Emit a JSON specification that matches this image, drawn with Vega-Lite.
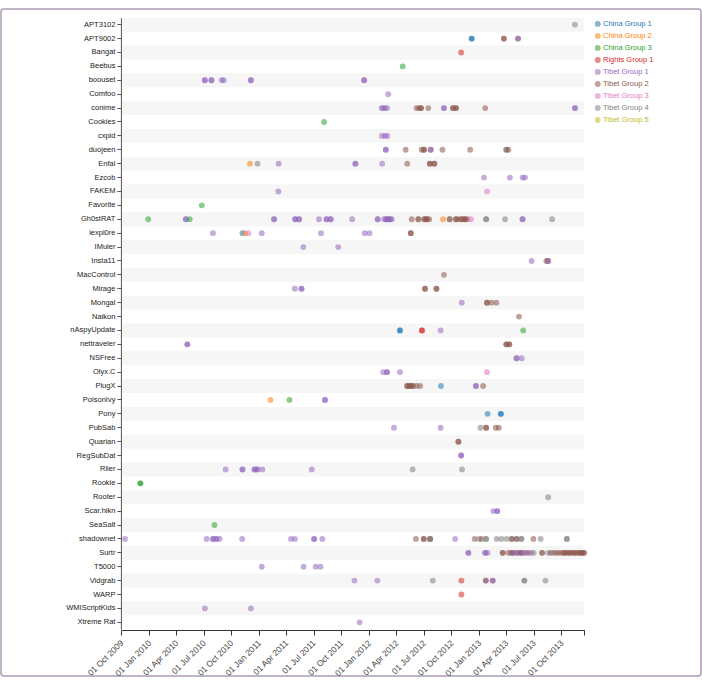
{
  "$schema": "https://vega.github.io/schema/vega-lite/v6.json",
  "width": 700,
  "height": 667,
  "autosize": "none",
  "padding": {"left": 1, "top": 9, "right": 1, "bottom": 4},
  "config": {
    "font": "Liberation Sans",
    "view": {"stroke": "#ab9db5", "strokeWidth": 1.5, "cornerRadius": 3, "fill": "white"}
  },
  "datasets": {
    "bands": [
      {"family": "APT3102"}, {"family": "Bangat"}, {"family": "boouset"}, {"family": "conime"},
      {"family": "cxpid"}, {"family": "Enfal"}, {"family": "FAKEM"}, {"family": "Gh0stRAT"},
      {"family": "IMuler"}, {"family": "MacControl"}, {"family": "Mongal"}, {"family": "nAspyUpdate"},
      {"family": "NSFree"}, {"family": "PlugX"}, {"family": "Pony"}, {"family": "Quarian"},
      {"family": "Riler"}, {"family": "Rooter"}, {"family": "SeaSalt"}, {"family": "Surtr"},
      {"family": "Vidgrab"}, {"family": "WMIScriptKids"}
    ],
    "samples": [
      {"family": "APT3102", "date": "2013-11-15", "group": "Tibet Group 4"},
      {"family": "APT9002", "date": "2012-12-07", "group": "China Group 1"},
      {"family": "APT9002", "date": "2012-12-07", "group": "China Group 1"},
      {"family": "APT9002", "date": "2013-03-24", "group": "Tibet Group 2"},
      {"family": "APT9002", "date": "2013-03-24", "group": "Tibet Group 2"},
      {"family": "APT9002", "date": "2013-05-10", "group": "Tibet Group 2"},
      {"family": "APT9002", "date": "2013-05-10", "group": "Tibet Group 1"},
      {"family": "Bangat", "date": "2012-11-02", "group": "Rights Group 1"},
      {"family": "Beebus", "date": "2012-04-22", "group": "China Group 3"},
      {"family": "boouset", "date": "2010-07-05", "group": "Tibet Group 1"},
      {"family": "boouset", "date": "2010-07-05", "group": "Tibet Group 1"},
      {"family": "boouset", "date": "2010-07-27", "group": "Tibet Group 1"},
      {"family": "boouset", "date": "2010-07-27", "group": "Tibet Group 1"},
      {"family": "boouset", "date": "2010-08-30", "group": "Tibet Group 1"},
      {"family": "boouset", "date": "2010-09-06", "group": "Tibet Group 1"},
      {"family": "boouset", "date": "2010-12-05", "group": "Tibet Group 1"},
      {"family": "boouset", "date": "2010-12-05", "group": "Tibet Group 1"},
      {"family": "boouset", "date": "2011-12-16", "group": "Tibet Group 1"},
      {"family": "boouset", "date": "2011-12-16", "group": "Tibet Group 1"},
      {"family": "Comfoo", "date": "2012-03-05", "group": "Tibet Group 1"},
      {"family": "conime", "date": "2012-02-12", "group": "Tibet Group 1"},
      {"family": "conime", "date": "2012-02-17", "group": "Tibet Group 1"},
      {"family": "conime", "date": "2012-02-23", "group": "Tibet Group 1"},
      {"family": "conime", "date": "2012-03-01", "group": "Tibet Group 1"},
      {"family": "conime", "date": "2012-06-07", "group": "Tibet Group 2"},
      {"family": "conime", "date": "2012-06-15", "group": "Tibet Group 2"},
      {"family": "conime", "date": "2012-06-22", "group": "Tibet Group 2"},
      {"family": "conime", "date": "2012-06-22", "group": "Tibet Group 2"},
      {"family": "conime", "date": "2012-07-16", "group": "Tibet Group 2"},
      {"family": "conime", "date": "2012-09-06", "group": "Tibet Group 1"},
      {"family": "conime", "date": "2012-09-06", "group": "Tibet Group 1"},
      {"family": "conime", "date": "2012-10-06", "group": "Tibet Group 2"},
      {"family": "conime", "date": "2012-10-06", "group": "Tibet Group 2"},
      {"family": "conime", "date": "2012-10-16", "group": "Tibet Group 2"},
      {"family": "conime", "date": "2012-10-16", "group": "Tibet Group 2"},
      {"family": "conime", "date": "2013-01-21", "group": "Tibet Group 2"},
      {"family": "conime", "date": "2013-11-15", "group": "Tibet Group 1"},
      {"family": "conime", "date": "2013-11-15", "group": "Tibet Group 1"},
      {"family": "Cookies", "date": "2011-08-05", "group": "China Group 3"},
      {"family": "cxpid", "date": "2012-02-13", "group": "Tibet Group 1"},
      {"family": "cxpid", "date": "2012-02-23", "group": "Tibet Group 1"},
      {"family": "cxpid", "date": "2012-03-02", "group": "Tibet Group 1"},
      {"family": "duojeen", "date": "2012-02-26", "group": "Tibet Group 1"},
      {"family": "duojeen", "date": "2012-02-26", "group": "Tibet Group 1"},
      {"family": "duojeen", "date": "2012-05-02", "group": "Tibet Group 2"},
      {"family": "duojeen", "date": "2012-06-24", "group": "Tibet Group 2"},
      {"family": "duojeen", "date": "2012-07-02", "group": "Tibet Group 2"},
      {"family": "duojeen", "date": "2012-07-02", "group": "Tibet Group 2"},
      {"family": "duojeen", "date": "2012-07-24", "group": "Tibet Group 2"},
      {"family": "duojeen", "date": "2012-07-24", "group": "Tibet Group 1"},
      {"family": "duojeen", "date": "2012-09-01", "group": "Tibet Group 2"},
      {"family": "duojeen", "date": "2012-12-02", "group": "Tibet Group 2"},
      {"family": "duojeen", "date": "2013-04-01", "group": "Tibet Group 2"},
      {"family": "duojeen", "date": "2013-04-01", "group": "Tibet Group 4"},
      {"family": "duojeen", "date": "2013-04-08", "group": "Tibet Group 2"},
      {"family": "Enfal", "date": "2010-12-02", "group": "China Group 2"},
      {"family": "Enfal", "date": "2010-12-27", "group": "Tibet Group 4"},
      {"family": "Enfal", "date": "2011-03-07", "group": "Tibet Group 1"},
      {"family": "Enfal", "date": "2011-11-17", "group": "Tibet Group 1"},
      {"family": "Enfal", "date": "2011-11-17", "group": "Tibet Group 1"},
      {"family": "Enfal", "date": "2012-02-14", "group": "Tibet Group 1"},
      {"family": "Enfal", "date": "2012-05-07", "group": "Tibet Group 2"},
      {"family": "Enfal", "date": "2012-07-21", "group": "Tibet Group 2"},
      {"family": "Enfal", "date": "2012-07-21", "group": "Tibet Group 2"},
      {"family": "Enfal", "date": "2012-08-05", "group": "Tibet Group 2"},
      {"family": "Enfal", "date": "2012-08-05", "group": "Tibet Group 2"},
      {"family": "Ezcob", "date": "2013-01-17", "group": "Tibet Group 1"},
      {"family": "Ezcob", "date": "2013-04-13", "group": "Tibet Group 1"},
      {"family": "Ezcob", "date": "2013-05-25", "group": "Tibet Group 1"},
      {"family": "Ezcob", "date": "2013-06-02", "group": "Tibet Group 1"},
      {"family": "FAKEM", "date": "2011-03-06", "group": "Tibet Group 1"},
      {"family": "FAKEM", "date": "2013-01-27", "group": "Tibet Group 3"},
      {"family": "Favorite", "date": "2010-06-25", "group": "China Group 3"},
      {"family": "Gh0stRAT", "date": "2009-12-29", "group": "China Group 3"},
      {"family": "Gh0stRAT", "date": "2010-05-03", "group": "Tibet Group 1"},
      {"family": "Gh0stRAT", "date": "2010-05-03", "group": "Tibet Group 1"},
      {"family": "Gh0stRAT", "date": "2010-05-16", "group": "China Group 3"},
      {"family": "Gh0stRAT", "date": "2011-02-20", "group": "Tibet Group 1"},
      {"family": "Gh0stRAT", "date": "2011-02-20", "group": "Tibet Group 1"},
      {"family": "Gh0stRAT", "date": "2011-05-01", "group": "Tibet Group 1"},
      {"family": "Gh0stRAT", "date": "2011-05-01", "group": "Tibet Group 1"},
      {"family": "Gh0stRAT", "date": "2011-05-14", "group": "Tibet Group 1"},
      {"family": "Gh0stRAT", "date": "2011-05-14", "group": "Tibet Group 1"},
      {"family": "Gh0stRAT", "date": "2011-07-19", "group": "Tibet Group 1"},
      {"family": "Gh0stRAT", "date": "2011-08-13", "group": "Tibet Group 1"},
      {"family": "Gh0stRAT", "date": "2011-08-13", "group": "Tibet Group 1"},
      {"family": "Gh0stRAT", "date": "2011-08-27", "group": "Tibet Group 1"},
      {"family": "Gh0stRAT", "date": "2011-08-27", "group": "Tibet Group 1"},
      {"family": "Gh0stRAT", "date": "2011-11-06", "group": "Tibet Group 1"},
      {"family": "Gh0stRAT", "date": "2012-01-30", "group": "Tibet Group 1"},
      {"family": "Gh0stRAT", "date": "2012-01-30", "group": "Tibet Group 1"},
      {"family": "Gh0stRAT", "date": "2012-02-20", "group": "Tibet Group 1"},
      {"family": "Gh0stRAT", "date": "2012-02-27", "group": "Tibet Group 1"},
      {"family": "Gh0stRAT", "date": "2012-02-27", "group": "Tibet Group 1"},
      {"family": "Gh0stRAT", "date": "2012-03-04", "group": "Tibet Group 1"},
      {"family": "Gh0stRAT", "date": "2012-03-04", "group": "Tibet Group 1"},
      {"family": "Gh0stRAT", "date": "2012-03-11", "group": "Tibet Group 1"},
      {"family": "Gh0stRAT", "date": "2012-03-11", "group": "Tibet Group 1"},
      {"family": "Gh0stRAT", "date": "2012-03-17", "group": "Tibet Group 1"},
      {"family": "Gh0stRAT", "date": "2012-05-22", "group": "Tibet Group 2"},
      {"family": "Gh0stRAT", "date": "2012-06-13", "group": "Tibet Group 4"},
      {"family": "Gh0stRAT", "date": "2012-06-13", "group": "Tibet Group 2"},
      {"family": "Gh0stRAT", "date": "2012-07-03", "group": "Tibet Group 2"},
      {"family": "Gh0stRAT", "date": "2012-07-03", "group": "Tibet Group 2"},
      {"family": "Gh0stRAT", "date": "2012-07-11", "group": "Tibet Group 2"},
      {"family": "Gh0stRAT", "date": "2012-07-11", "group": "Tibet Group 2"},
      {"family": "Gh0stRAT", "date": "2012-07-19", "group": "Tibet Group 2"},
      {"family": "Gh0stRAT", "date": "2012-09-03", "group": "China Group 2"},
      {"family": "Gh0stRAT", "date": "2012-09-25", "group": "Tibet Group 4"},
      {"family": "Gh0stRAT", "date": "2012-09-25", "group": "Tibet Group 2"},
      {"family": "Gh0stRAT", "date": "2012-10-16", "group": "Tibet Group 2"},
      {"family": "Gh0stRAT", "date": "2012-10-16", "group": "Tibet Group 2"},
      {"family": "Gh0stRAT", "date": "2012-10-26", "group": "Tibet Group 2"},
      {"family": "Gh0stRAT", "date": "2012-11-05", "group": "Tibet Group 2"},
      {"family": "Gh0stRAT", "date": "2012-11-05", "group": "Tibet Group 2"},
      {"family": "Gh0stRAT", "date": "2012-11-15", "group": "Tibet Group 2"},
      {"family": "Gh0stRAT", "date": "2012-11-15", "group": "Tibet Group 2"},
      {"family": "Gh0stRAT", "date": "2012-11-23", "group": "Tibet Group 2"},
      {"family": "Gh0stRAT", "date": "2012-12-05", "group": "Tibet Group 3"},
      {"family": "Gh0stRAT", "date": "2013-01-24", "group": "Tibet Group 4"},
      {"family": "Gh0stRAT", "date": "2013-01-24", "group": "Tibet Group 4"},
      {"family": "Gh0stRAT", "date": "2013-03-28", "group": "Tibet Group 4"},
      {"family": "Gh0stRAT", "date": "2013-05-25", "group": "Tibet Group 1"},
      {"family": "Gh0stRAT", "date": "2013-05-25", "group": "Tibet Group 1"},
      {"family": "Gh0stRAT", "date": "2013-08-31", "group": "Tibet Group 4"},
      {"family": "iexpl0re", "date": "2010-08-01", "group": "Tibet Group 1"},
      {"family": "iexpl0re", "date": "2010-11-07", "group": "China Group 1"},
      {"family": "iexpl0re", "date": "2010-11-16", "group": "China Group 2"},
      {"family": "iexpl0re", "date": "2010-11-27", "group": "Tibet Group 3"},
      {"family": "iexpl0re", "date": "2011-01-10", "group": "Tibet Group 1"},
      {"family": "iexpl0re", "date": "2011-07-26", "group": "Tibet Group 1"},
      {"family": "iexpl0re", "date": "2011-12-18", "group": "Tibet Group 1"},
      {"family": "iexpl0re", "date": "2012-01-03", "group": "Tibet Group 1"},
      {"family": "iexpl0re", "date": "2012-05-19", "group": "Tibet Group 2"},
      {"family": "iexpl0re", "date": "2012-05-19", "group": "Tibet Group 2"},
      {"family": "IMuler", "date": "2011-05-28", "group": "Tibet Group 1"},
      {"family": "IMuler", "date": "2011-09-21", "group": "Tibet Group 1"},
      {"family": "Insta11", "date": "2013-06-24", "group": "Tibet Group 1"},
      {"family": "Insta11", "date": "2013-08-12", "group": "Tibet Group 2"},
      {"family": "Insta11", "date": "2013-08-18", "group": "Tibet Group 2"},
      {"family": "Insta11", "date": "2013-08-18", "group": "Tibet Group 1"},
      {"family": "MacControl", "date": "2012-09-06", "group": "Tibet Group 2"},
      {"family": "Mirage", "date": "2011-04-30", "group": "Tibet Group 1"},
      {"family": "Mirage", "date": "2011-05-22", "group": "Tibet Group 1"},
      {"family": "Mirage", "date": "2011-05-22", "group": "Tibet Group 1"},
      {"family": "Mirage", "date": "2012-07-05", "group": "Tibet Group 2"},
      {"family": "Mirage", "date": "2012-07-05", "group": "Tibet Group 2"},
      {"family": "Mirage", "date": "2012-08-12", "group": "Tibet Group 2"},
      {"family": "Mirage", "date": "2012-08-12", "group": "Tibet Group 2"},
      {"family": "Mongal", "date": "2012-11-04", "group": "Tibet Group 1"},
      {"family": "Mongal", "date": "2013-01-27", "group": "Tibet Group 2"},
      {"family": "Mongal", "date": "2013-01-27", "group": "Tibet Group 2"},
      {"family": "Mongal", "date": "2013-02-11", "group": "Tibet Group 2"},
      {"family": "Mongal", "date": "2013-02-27", "group": "Tibet Group 2"},
      {"family": "Naikon", "date": "2013-05-13", "group": "Tibet Group 2"},
      {"family": "nAspyUpdate", "date": "2012-04-13", "group": "China Group 1"},
      {"family": "nAspyUpdate", "date": "2012-04-13", "group": "China Group 1"},
      {"family": "nAspyUpdate", "date": "2012-06-25", "group": "Rights Group 1"},
      {"family": "nAspyUpdate", "date": "2012-06-25", "group": "Rights Group 1"},
      {"family": "nAspyUpdate", "date": "2012-08-26", "group": "Tibet Group 1"},
      {"family": "nAspyUpdate", "date": "2013-05-27", "group": "China Group 3"},
      {"family": "nettraveler", "date": "2010-05-08", "group": "Tibet Group 1"},
      {"family": "nettraveler", "date": "2010-05-08", "group": "Tibet Group 1"},
      {"family": "nettraveler", "date": "2013-04-01", "group": "Tibet Group 2"},
      {"family": "nettraveler", "date": "2013-04-01", "group": "Tibet Group 2"},
      {"family": "nettraveler", "date": "2013-04-11", "group": "Tibet Group 2"},
      {"family": "nettraveler", "date": "2013-04-11", "group": "Tibet Group 2"},
      {"family": "NSFree", "date": "2013-05-05", "group": "Tibet Group 1"},
      {"family": "NSFree", "date": "2013-05-05", "group": "Tibet Group 1"},
      {"family": "NSFree", "date": "2013-05-22", "group": "Tibet Group 1"},
      {"family": "Olyx.C", "date": "2012-02-17", "group": "Tibet Group 1"},
      {"family": "Olyx.C", "date": "2012-03-01", "group": "Tibet Group 1"},
      {"family": "Olyx.C", "date": "2012-03-01", "group": "Tibet Group 1"},
      {"family": "Olyx.C", "date": "2012-04-13", "group": "Tibet Group 1"},
      {"family": "Olyx.C", "date": "2013-01-27", "group": "Tibet Group 3"},
      {"family": "PlugX", "date": "2012-05-07", "group": "Tibet Group 2"},
      {"family": "PlugX", "date": "2012-05-07", "group": "Tibet Group 2"},
      {"family": "PlugX", "date": "2012-05-16", "group": "Tibet Group 2"},
      {"family": "PlugX", "date": "2012-05-16", "group": "Tibet Group 2"},
      {"family": "PlugX", "date": "2012-05-25", "group": "Tibet Group 2"},
      {"family": "PlugX", "date": "2012-05-25", "group": "Tibet Group 2"},
      {"family": "PlugX", "date": "2012-06-07", "group": "Tibet Group 2"},
      {"family": "PlugX", "date": "2012-06-19", "group": "Tibet Group 2"},
      {"family": "PlugX", "date": "2012-08-27", "group": "China Group 1"},
      {"family": "PlugX", "date": "2012-12-21", "group": "Tibet Group 1"},
      {"family": "PlugX", "date": "2012-12-21", "group": "Tibet Group 1"},
      {"family": "PlugX", "date": "2013-01-14", "group": "Tibet Group 2"},
      {"family": "PoisonIvy", "date": "2011-02-08", "group": "China Group 2"},
      {"family": "PoisonIvy", "date": "2011-04-12", "group": "China Group 3"},
      {"family": "PoisonIvy", "date": "2011-08-08", "group": "Tibet Group 1"},
      {"family": "PoisonIvy", "date": "2011-08-08", "group": "Tibet Group 1"},
      {"family": "Pony", "date": "2013-01-29", "group": "China Group 1"},
      {"family": "Pony", "date": "2013-03-14", "group": "China Group 1"},
      {"family": "Pony", "date": "2013-03-14", "group": "China Group 1"},
      {"family": "PubSab", "date": "2012-03-24", "group": "Tibet Group 1"},
      {"family": "PubSab", "date": "2012-08-26", "group": "Tibet Group 1"},
      {"family": "PubSab", "date": "2013-01-05", "group": "Tibet Group 4"},
      {"family": "PubSab", "date": "2013-01-24", "group": "Tibet Group 2"},
      {"family": "PubSab", "date": "2013-01-24", "group": "Tibet Group 2"},
      {"family": "PubSab", "date": "2013-02-25", "group": "Tibet Group 2"},
      {"family": "PubSab", "date": "2013-03-07", "group": "Tibet Group 2"},
      {"family": "Quarian", "date": "2012-10-24", "group": "Tibet Group 2"},
      {"family": "Quarian", "date": "2012-10-24", "group": "Tibet Group 2"},
      {"family": "RegSubDat", "date": "2012-11-02", "group": "Tibet Group 1"},
      {"family": "RegSubDat", "date": "2012-11-02", "group": "Tibet Group 1"},
      {"family": "Riler", "date": "2010-09-12", "group": "Tibet Group 1"},
      {"family": "Riler", "date": "2010-11-07", "group": "Tibet Group 1"},
      {"family": "Riler", "date": "2010-11-07", "group": "Tibet Group 1"},
      {"family": "Riler", "date": "2010-12-17", "group": "Tibet Group 1"},
      {"family": "Riler", "date": "2010-12-17", "group": "Tibet Group 1"},
      {"family": "Riler", "date": "2010-12-26", "group": "Tibet Group 1"},
      {"family": "Riler", "date": "2010-12-26", "group": "Tibet Group 1"},
      {"family": "Riler", "date": "2011-01-12", "group": "Tibet Group 1"},
      {"family": "Riler", "date": "2011-06-25", "group": "Tibet Group 1"},
      {"family": "Riler", "date": "2012-05-25", "group": "Tibet Group 4"},
      {"family": "Riler", "date": "2012-11-05", "group": "Tibet Group 4"},
      {"family": "Rookie", "date": "2009-12-03", "group": "China Group 3"},
      {"family": "Rookie", "date": "2009-12-03", "group": "China Group 3"},
      {"family": "Rooter", "date": "2013-08-18", "group": "Tibet Group 4"},
      {"family": "Scar.hikn", "date": "2013-02-17", "group": "Tibet Group 1"},
      {"family": "Scar.hikn", "date": "2013-03-02", "group": "Tibet Group 1"},
      {"family": "Scar.hikn", "date": "2013-03-02", "group": "Tibet Group 1"},
      {"family": "SeaSalt", "date": "2010-08-06", "group": "China Group 3"},
      {"family": "shadownet", "date": "2009-10-13", "group": "Tibet Group 1"},
      {"family": "shadownet", "date": "2010-07-11", "group": "Tibet Group 1"},
      {"family": "shadownet", "date": "2010-08-01", "group": "Tibet Group 1"},
      {"family": "shadownet", "date": "2010-08-01", "group": "Tibet Group 1"},
      {"family": "shadownet", "date": "2010-08-12", "group": "Tibet Group 1"},
      {"family": "shadownet", "date": "2010-08-12", "group": "Tibet Group 1"},
      {"family": "shadownet", "date": "2010-08-23", "group": "Tibet Group 1"},
      {"family": "shadownet", "date": "2010-11-06", "group": "Tibet Group 1"},
      {"family": "shadownet", "date": "2011-04-17", "group": "Tibet Group 1"},
      {"family": "shadownet", "date": "2011-04-30", "group": "Tibet Group 1"},
      {"family": "shadownet", "date": "2011-07-03", "group": "Tibet Group 1"},
      {"family": "shadownet", "date": "2011-07-03", "group": "Tibet Group 1"},
      {"family": "shadownet", "date": "2011-07-30", "group": "Tibet Group 1"},
      {"family": "shadownet", "date": "2012-06-05", "group": "Tibet Group 2"},
      {"family": "shadownet", "date": "2012-07-01", "group": "Tibet Group 2"},
      {"family": "shadownet", "date": "2012-07-01", "group": "Tibet Group 2"},
      {"family": "shadownet", "date": "2012-07-22", "group": "Tibet Group 2"},
      {"family": "shadownet", "date": "2012-07-22", "group": "Tibet Group 2"},
      {"family": "shadownet", "date": "2012-07-22", "group": "Tibet Group 4"},
      {"family": "shadownet", "date": "2012-10-13", "group": "Tibet Group 1"},
      {"family": "shadownet", "date": "2012-12-17", "group": "Tibet Group 2"},
      {"family": "shadownet", "date": "2013-01-01", "group": "Tibet Group 4"},
      {"family": "shadownet", "date": "2013-01-09", "group": "Tibet Group 2"},
      {"family": "shadownet", "date": "2013-01-24", "group": "Tibet Group 4"},
      {"family": "shadownet", "date": "2013-01-24", "group": "Tibet Group 4"},
      {"family": "shadownet", "date": "2013-02-28", "group": "Tibet Group 4"},
      {"family": "shadownet", "date": "2013-03-16", "group": "Tibet Group 4"},
      {"family": "shadownet", "date": "2013-04-02", "group": "Tibet Group 4"},
      {"family": "shadownet", "date": "2013-04-19", "group": "Tibet Group 4"},
      {"family": "shadownet", "date": "2013-04-19", "group": "Tibet Group 2"},
      {"family": "shadownet", "date": "2013-05-05", "group": "Tibet Group 4"},
      {"family": "shadownet", "date": "2013-05-05", "group": "Tibet Group 2"},
      {"family": "shadownet", "date": "2013-05-21", "group": "Tibet Group 4"},
      {"family": "shadownet", "date": "2013-05-21", "group": "Tibet Group 4"},
      {"family": "shadownet", "date": "2013-06-30", "group": "Tibet Group 2"},
      {"family": "shadownet", "date": "2013-07-24", "group": "Tibet Group 4"},
      {"family": "shadownet", "date": "2013-10-19", "group": "Tibet Group 4"},
      {"family": "shadownet", "date": "2013-10-19", "group": "Tibet Group 4"},
      {"family": "Surtr", "date": "2012-11-26", "group": "Tibet Group 1"},
      {"family": "Surtr", "date": "2012-11-26", "group": "Tibet Group 1"},
      {"family": "Surtr", "date": "2013-01-21", "group": "Tibet Group 1"},
      {"family": "Surtr", "date": "2013-01-21", "group": "Tibet Group 1"},
      {"family": "Surtr", "date": "2013-01-29", "group": "Tibet Group 1"},
      {"family": "Surtr", "date": "2013-03-20", "group": "Tibet Group 2"},
      {"family": "Surtr", "date": "2013-03-20", "group": "Tibet Group 2"},
      {"family": "Surtr", "date": "2013-04-08", "group": "Tibet Group 2"},
      {"family": "Surtr", "date": "2013-04-16", "group": "Tibet Group 1"},
      {"family": "Surtr", "date": "2013-04-20", "group": "Tibet Group 2"},
      {"family": "Surtr", "date": "2013-04-25", "group": "Tibet Group 2"},
      {"family": "Surtr", "date": "2013-05-03", "group": "Tibet Group 1"},
      {"family": "Surtr", "date": "2013-05-07", "group": "Tibet Group 1"},
      {"family": "Surtr", "date": "2013-05-11", "group": "Tibet Group 1"},
      {"family": "Surtr", "date": "2013-05-19", "group": "Tibet Group 2"},
      {"family": "Surtr", "date": "2013-05-23", "group": "Tibet Group 2"},
      {"family": "Surtr", "date": "2013-05-28", "group": "Tibet Group 1"},
      {"family": "Surtr", "date": "2013-06-05", "group": "Tibet Group 1"},
      {"family": "Surtr", "date": "2013-06-13", "group": "Tibet Group 2"},
      {"family": "Surtr", "date": "2013-06-22", "group": "Tibet Group 1"},
      {"family": "Surtr", "date": "2013-07-01", "group": "Tibet Group 4"},
      {"family": "Surtr", "date": "2013-07-29", "group": "Tibet Group 4"},
      {"family": "Surtr", "date": "2013-07-29", "group": "Tibet Group 2"},
      {"family": "Surtr", "date": "2013-08-18", "group": "Tibet Group 4"},
      {"family": "Surtr", "date": "2013-08-27", "group": "Tibet Group 2"},
      {"family": "Surtr", "date": "2013-09-04", "group": "Tibet Group 4"},
      {"family": "Surtr", "date": "2013-09-12", "group": "Tibet Group 2"},
      {"family": "Surtr", "date": "2013-09-21", "group": "Tibet Group 2"},
      {"family": "Surtr", "date": "2013-09-30", "group": "Tibet Group 2"},
      {"family": "Surtr", "date": "2013-10-08", "group": "Tibet Group 2"},
      {"family": "Surtr", "date": "2013-10-12", "group": "Tibet Group 2"},
      {"family": "Surtr", "date": "2013-10-16", "group": "Tibet Group 2"},
      {"family": "Surtr", "date": "2013-10-24", "group": "Tibet Group 2"},
      {"family": "Surtr", "date": "2013-10-28", "group": "Tibet Group 2"},
      {"family": "Surtr", "date": "2013-11-02", "group": "Tibet Group 2"},
      {"family": "Surtr", "date": "2013-11-10", "group": "Tibet Group 2"},
      {"family": "Surtr", "date": "2013-11-14", "group": "Tibet Group 2"},
      {"family": "Surtr", "date": "2013-11-18", "group": "Tibet Group 2"},
      {"family": "Surtr", "date": "2013-11-27", "group": "Tibet Group 2"},
      {"family": "Surtr", "date": "2013-11-30", "group": "Tibet Group 2"},
      {"family": "Surtr", "date": "2013-12-05", "group": "Tibet Group 2"},
      {"family": "Surtr", "date": "2013-12-09", "group": "Tibet Group 2"},
      {"family": "Surtr", "date": "2013-12-13", "group": "Tibet Group 2"},
      {"family": "Surtr", "date": "2013-12-16", "group": "Tibet Group 2"},
      {"family": "T5000", "date": "2011-01-10", "group": "Tibet Group 1"},
      {"family": "T5000", "date": "2011-05-29", "group": "Tibet Group 1"},
      {"family": "T5000", "date": "2011-07-08", "group": "Tibet Group 1"},
      {"family": "T5000", "date": "2011-07-24", "group": "Tibet Group 1"},
      {"family": "Vidgrab", "date": "2011-11-14", "group": "Tibet Group 1"},
      {"family": "Vidgrab", "date": "2012-01-29", "group": "Tibet Group 1"},
      {"family": "Vidgrab", "date": "2012-07-31", "group": "Tibet Group 4"},
      {"family": "Vidgrab", "date": "2012-11-03", "group": "Rights Group 1"},
      {"family": "Vidgrab", "date": "2013-01-23", "group": "Tibet Group 1"},
      {"family": "Vidgrab", "date": "2013-01-23", "group": "Tibet Group 2"},
      {"family": "Vidgrab", "date": "2013-02-15", "group": "Tibet Group 2"},
      {"family": "Vidgrab", "date": "2013-02-15", "group": "Tibet Group 1"},
      {"family": "Vidgrab", "date": "2013-05-31", "group": "Tibet Group 4"},
      {"family": "Vidgrab", "date": "2013-05-31", "group": "Tibet Group 4"},
      {"family": "Vidgrab", "date": "2013-08-09", "group": "Tibet Group 4"},
      {"family": "WARP", "date": "2012-11-03", "group": "Rights Group 1"},
      {"family": "WMIScriptKids", "date": "2010-07-05", "group": "Tibet Group 1"},
      {"family": "WMIScriptKids", "date": "2010-12-05", "group": "Tibet Group 1"},
      {"family": "Xtreme Rat", "date": "2011-12-01", "group": "Tibet Group 1"}
    ]
  },
  "layer": [
    {
      "data": {"name": "bands"},
      "mark": {"type": "rect", "color": "#f6f6f6"},
      "encoding": {
        "y": {
          "field": "family",
          "type": "nominal",
          "title": null,
          "scale": {
            "type": "band",
            "domain": ["APT3102", "APT9002", "Bangat", "Beebus", "boouset", "Comfoo", "conime", "Cookies", "cxpid", "duojeen", "Enfal", "Ezcob", "FAKEM", "Favorite", "Gh0stRAT", "iexpl0re", "IMuler", "Insta11", "MacControl", "Mirage", "Mongal", "Naikon", "nAspyUpdate", "nettraveler", "NSFree", "Olyx.C", "PlugX", "PoisonIvy", "Pony", "PubSab", "Quarian", "RegSubDat", "Riler", "Rookie", "Rooter", "Scar.hikn", "SeaSalt", "shadownet", "Surtr", "T5000", "Vidgrab", "WARP", "WMIScriptKids", "Xtreme Rat"],
            "range": [8.75, 620.25],
            "paddingInner": 0,
            "paddingOuter": 0
          }
        },
        "x": {"datum": {"year": 2009, "month": 10, "date": 1}, "type": "temporal", "title": null},
        "x2": {"datum": {"year": 2013, "month": 12, "date": 16}}
      }
    },
    {
      "data": {"name": "samples"},
      "mark": {"type": "circle", "size": 34, "opacity": 0.55},
      "encoding": {
        "x": {
          "field": "date",
          "type": "temporal",
          "title": null,
          "scale": {
            "domain": [{"year": 2009, "month": 10, "date": 1}, {"year": 2013, "month": 12, "date": 16}],
            "range": [120.4, 583.3]
          },
          "axis": {
            "values": [
              {"year": 2009, "month": 10, "date": 1}, {"year": 2010, "month": 1, "date": 1},
              {"year": 2010, "month": 4, "date": 1}, {"year": 2010, "month": 7, "date": 1},
              {"year": 2010, "month": 10, "date": 1}, {"year": 2011, "month": 1, "date": 1},
              {"year": 2011, "month": 4, "date": 1}, {"year": 2011, "month": 7, "date": 1},
              {"year": 2011, "month": 10, "date": 1}, {"year": 2012, "month": 1, "date": 1},
              {"year": 2012, "month": 4, "date": 1}, {"year": 2012, "month": 7, "date": 1},
              {"year": 2012, "month": 10, "date": 1}, {"year": 2013, "month": 1, "date": 1},
              {"year": 2013, "month": 4, "date": 1}, {"year": 2013, "month": 7, "date": 1},
              {"year": 2013, "month": 10, "date": 1}, {"year": 2013, "month": 12, "date": 16}
            ],
            "format": "%d %b %Y",
            "labelExpr": "datum.value > datetime(2013, 10, 15) ? '' : datum.label",
            "labelAngle": -45,
            "labelAlign": "right",
            "labelBaseline": "middle",
            "labelFontSize": 8.5,
            "labelColor": "#444",
            "labelPadding": 6,
            "labelOverlap": false,
            "labelFlush": false,
            "tickSize": 5,
            "tickColor": "#333",
            "domainColor": "#333",
            "grid": false,
            "offset": -46
          }
        },
        "y": {
          "field": "family",
          "type": "nominal",
          "title": null,
          "scale": {
            "type": "band",
            "domain": ["APT3102", "APT9002", "Bangat", "Beebus", "boouset", "Comfoo", "conime", "Cookies", "cxpid", "duojeen", "Enfal", "Ezcob", "FAKEM", "Favorite", "Gh0stRAT", "iexpl0re", "IMuler", "Insta11", "MacControl", "Mirage", "Mongal", "Naikon", "nAspyUpdate", "nettraveler", "NSFree", "Olyx.C", "PlugX", "PoisonIvy", "Pony", "PubSab", "Quarian", "RegSubDat", "Riler", "Rookie", "Rooter", "Scar.hikn", "SeaSalt", "shadownet", "Surtr", "T5000", "Vidgrab", "WARP", "WMIScriptKids", "Xtreme Rat"],
            "range": [8.75, 620.25],
            "paddingInner": 0,
            "paddingOuter": 0
          },
          "axis": {
            "offset": -119.9,
            "labelFontSize": 7.5,
            "labelColor": "#222",
            "labelPadding": 2,
            "labelLimit": 0,
            "tickSize": 4,
            "tickColor": "#555",
            "domainColor": "#555",
            "grid": false
          }
        },
        "color": {
          "field": "group",
          "type": "nominal",
          "scale": {
            "domain": ["China Group 1", "China Group 2", "China Group 3", "Rights Group 1", "Tibet Group 1", "Tibet Group 2", "Tibet Group 3", "Tibet Group 4", "Tibet Group 5"],
            "range": ["#1f77b4", "#ff7f0e", "#2ca02c", "#d62728", "#9467bd", "#8c564b", "#e377c2", "#7f7f7f", "#bcbd22"]
          },
          "legend": {
            "orient": "none",
            "legendX": 593,
            "legendY": 9,
            "title": null,
            "padding": 0,
            "symbolType": "circle",
            "symbolSize": 34,
            "symbolOpacity": 0.55,
            "symbolStrokeWidth": 0,
            "labelFontSize": 7.5,
            "labelOffset": 1.5,
            "clipHeight": 11.75,
            "rowPadding": 0,
            "encode": {
              "labels": {"update": {"fill": {"scale": "color", "field": "value"}}}
            }
          }
        }
      }
    }
  ]
}
